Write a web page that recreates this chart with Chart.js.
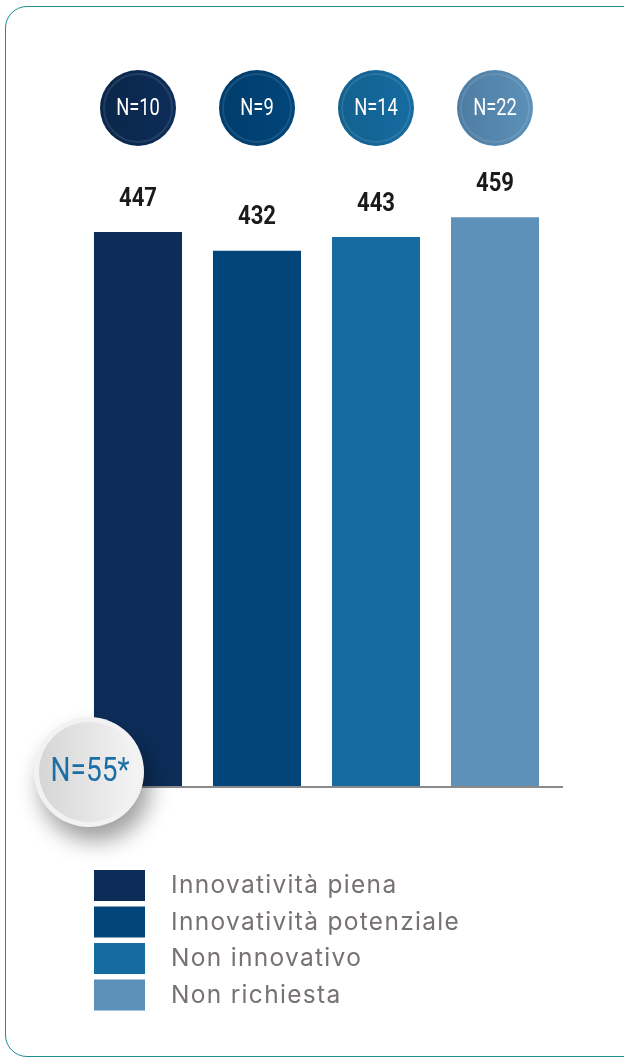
<!DOCTYPE html>
<html>
<head>
<meta charset="utf-8">
<script src="https://cdn.jsdelivr.net/npm/chart.js@4.4.1/dist/chart.umd.min.js"></script>
<style>
  html, body { margin: 0; padding: 0; background: #fff; overflow: hidden; }
  #frame {
    position: absolute; left: 5px; top: 6px; width: 660px; height: 1051px;
    border: 1.5px solid #1f8e8e; border-radius: 22px; box-sizing: border-box;
  }
  #myChart { position: absolute; left: 0; top: 0; }
</style>
</head>
<body>
<div id="frame"></div>
<canvas id="myChart" width="624" height="1061"></canvas>
<script>
const categories = ["Innovatività piena", "Innovatività potenziale", "Non innovativo", "Non richiesta"];
const scores = [447, 432, 443, 459];
const sampleSizes = [10, 9, 14, 22];
const totalLabel = "N=55*";

const barColors = ['#0c2d58', '#01457a', '#166ca1', '#5d91b9'];
const circleDark = ['#0a2649', '#013d6c', '#12608f', '#4d7ca2'];

// condensed look: squeeze a normal Roboto horizontally
function squeezedText(ctx, text, x, y, font, color, sx) {
  ctx.save();
  ctx.font = font;
  ctx.fillStyle = color;
  ctx.textAlign = 'center';
  ctx.textBaseline = 'middle';
  ctx.translate(x, y);
  ctx.scale(sx, 1);
  ctx.fillText(text, 0, 0);
  ctx.restore();
}

const decorations = {
  id: 'decorations',
  afterDatasetsDraw(chart) {
    const ctx = chart.ctx;
    const meta = chart.getDatasetMeta(0);
    const yScale = chart.scales.y;
    const base = yScale.getPixelForValue(0);

    // baseline
    ctx.save();
    ctx.strokeStyle = '#8a8a8a';
    ctx.lineWidth = 2;
    ctx.beginPath();
    ctx.moveTo(chart.chartArea.left, base);
    ctx.lineTo(563, base);
    ctx.stroke();
    ctx.restore();

    meta.data.forEach((bar, i) => {
      // value above bar
      squeezedText(ctx, String(scores[i]), bar.x, bar.y - 33,
        'bold 26px Roboto', '#1a1a1a', 0.85);

      // N circle
      const cy = 108, r = 38;
      ctx.save();
      const g = ctx.createLinearGradient(bar.x - r, 0, bar.x + r, 0);
      g.addColorStop(0, circleDark[i]);
      g.addColorStop(1, barColors[i]);
      ctx.fillStyle = g;
      ctx.beginPath();
      ctx.arc(bar.x, cy, r, 0, Math.PI * 2);
      ctx.fill();
      ctx.strokeStyle = 'rgba(255,255,255,0.10)';
      ctx.lineWidth = 2;
      ctx.beginPath();
      ctx.arc(bar.x, cy, r - 4, 0, Math.PI * 2);
      ctx.stroke();
      ctx.restore();
      squeezedText(ctx, 'N=' + sampleSizes[i], bar.x, cy + 1,
        '23.5px Roboto', '#ffffff', 0.78);
    });
  },
  afterDraw(chart) {
    const ctx = chart.ctx;

    // total badge
    const bx = 89, by = 772, br = 55;
    ctx.save();
    ctx.shadowColor = 'rgba(0,0,0,0.38)';
    ctx.shadowBlur = 22;
    ctx.shadowOffsetX = 6;
    ctx.shadowOffsetY = 14;
    ctx.fillStyle = '#f2f2f2';
    ctx.beginPath();
    ctx.arc(bx, by, br, 0, Math.PI * 2);
    ctx.fill();
    ctx.restore();
    ctx.save();
    const g = ctx.createLinearGradient(bx - br, 0, bx + br, 0);
    g.addColorStop(0, '#d4d4d4');
    g.addColorStop(1, '#f6f6f6');
    ctx.fillStyle = g;
    ctx.beginPath();
    ctx.arc(bx, by, br - 5, 0, Math.PI * 2);
    ctx.fill();
    ctx.restore();
    squeezedText(ctx, totalLabel, bx + 1, by + 1, '33px Roboto', '#1b6fa5', 0.85);

    // legend
    ctx.save();
    categories.forEach((name, i) => {
      const y = 870 + i * 36.5;
      ctx.fillStyle = barColors[i];
      ctx.fillRect(94, y, 51, 31);
      ctx.fillStyle = '#777171';
      ctx.font = '24.5px Inter';
      ctx.letterSpacing = '1.3px';
      ctx.textAlign = 'left';
      ctx.textBaseline = 'middle';
      ctx.fillText(name, 171, y + 16);
    });
    ctx.restore();
  }
};

const chart = new Chart(document.getElementById('myChart'), {
  type: 'bar',
  data: {
    labels: categories,
    datasets: [{
      data: scores,
      backgroundColor: barColors,
      borderWidth: 0,
      categoryPercentage: 1,
      barPercentage: 0.74,
    }]
  },
  options: {
    responsive: false,
    animation: false,
    layout: { padding: { left: 78.5, right: 69.5, top: 166.3, bottom: 274 } },
    scales: {
      x: { display: false },
      y: { display: false, min: 0, max: 500 }
    },
    plugins: { legend: { display: false }, tooltip: { enabled: false } }
  },
  plugins: [decorations]
});
</script>
</body>
</html>
